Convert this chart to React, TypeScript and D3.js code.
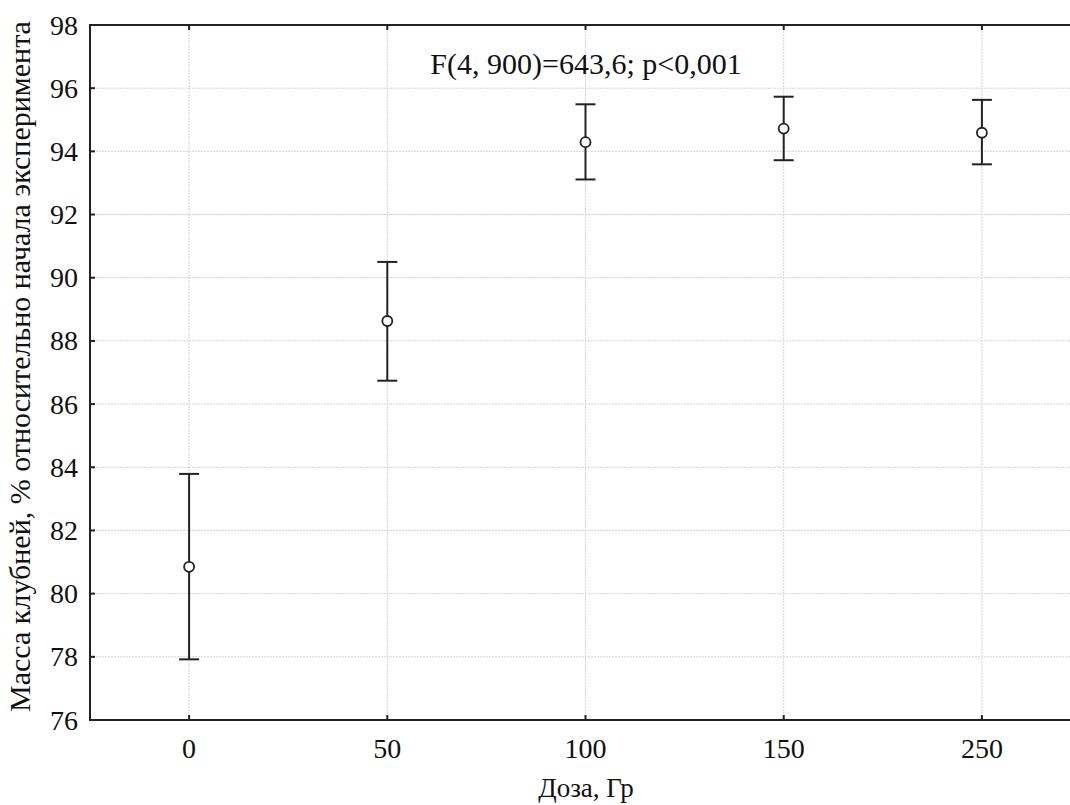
import React from "react";
import * as d3 from "d3";

const categories = ["0", "50", "100", "150", "250"];
const means = [80.85, 88.63, 94.29, 94.72, 94.59];
const upper = [83.79, 90.5, 95.49, 95.73, 95.63];
const lower = [77.92, 86.74, 93.11, 93.72, 93.59];
const yTicks = [76, 78, 80, 82, 84, 86, 88, 90, 92, 94, 96, 98];
const annotation = "F(4, 900)=643,6; p<0,001";
const xTitle = "Доза, Гр";
const yTitle = "Масса клубней, % относительно начала эксперимента";

export default function App() {
  const W = 1070, H = 805;
  const left = 90, top = 25, bottom = 720, right = 1081;
  const x = d3.scalePoint<string>().domain(categories).range([left, right]).padding(0.5);
  const y = d3.scaleLinear().domain([76, 98]).range([bottom, top]);
  const font = "Liberation Serif, Times New Roman, Tinos, DejaVu Serif, serif";
  return (
    <svg width={W} height={H} style={{ position: "absolute", left: 0, top: 0, background: "#fff", fontFamily: font }}>
      <rect x={0} y={0} width={W} height={H} fill="#fff" />
      {yTicks.slice(1, -1).map((t) => (
        <line key={"gy" + t} x1={left} x2={right} y1={y(t)} y2={y(t)} stroke="#d2d2d2" strokeWidth={1} strokeDasharray="2,1" />
      ))}
      {categories.map((c) => (
        <line key={"gx" + c} x1={x(c)} x2={x(c)} y1={top} y2={bottom} stroke="#d2d2d2" strokeWidth={1} strokeDasharray="2,1" />
      ))}
      <rect x={left} y={top} width={right - left} height={bottom - top} fill="none" stroke="#222" strokeWidth={2} />
      {yTicks.map((t) => (
        <g key={"yt" + t}>
          <line x1={left} x2={left + 5} y1={y(t)} y2={y(t)} stroke="#222" strokeWidth={2} />
          <text x={78} y={y(t)} dy="0.34em" textAnchor="end" fontSize={28} fill="#111" style={{ fontFamily: font }}>{t}</text>
        </g>
      ))}
      {categories.map((c) => (
        <g key={"xt" + c}>
          <line x1={x(c)} x2={x(c)} y1={bottom} y2={bottom - 5} stroke="#222" strokeWidth={2} />
          <line x1={x(c)} x2={x(c)} y1={top} y2={top + 5} stroke="#222" strokeWidth={2} />
          <text x={x(c)} y={758} textAnchor="middle" fontSize={28} fill="#111" style={{ fontFamily: font }}>{c}</text>
        </g>
      ))}
      {categories.map((c, i) => {
        const cx = x(c)!;
        return (
          <g key={"e" + c}>
            <line x1={cx} x2={cx} y1={y(upper[i])} y2={y(lower[i])} stroke="#222" strokeWidth={2} />
            <line x1={cx - 10} x2={cx + 10} y1={y(upper[i])} y2={y(upper[i])} stroke="#222" strokeWidth={2} />
            <line x1={cx - 10} x2={cx + 10} y1={y(lower[i])} y2={y(lower[i])} stroke="#222" strokeWidth={2} />
            <circle cx={cx} cy={y(means[i])} r={5} fill="#fff" stroke="#222" strokeWidth={1.8} />
          </g>
        );
      })}
      <text x={586} y={74} textAnchor="middle" fontSize={30} fill="#111" style={{ fontFamily: font }}>{annotation}</text>
      <text x={586} y={797} textAnchor="middle" fontSize={27} fill="#111" style={{ fontFamily: font }}>{xTitle}</text>
      <text transform={`translate(30,${(top + bottom) / 2 - 6}) rotate(-90)`} textAnchor="middle" fontSize={30} fill="#111" style={{ fontFamily: font }}>{yTitle}</text>
    </svg>
  );
}
